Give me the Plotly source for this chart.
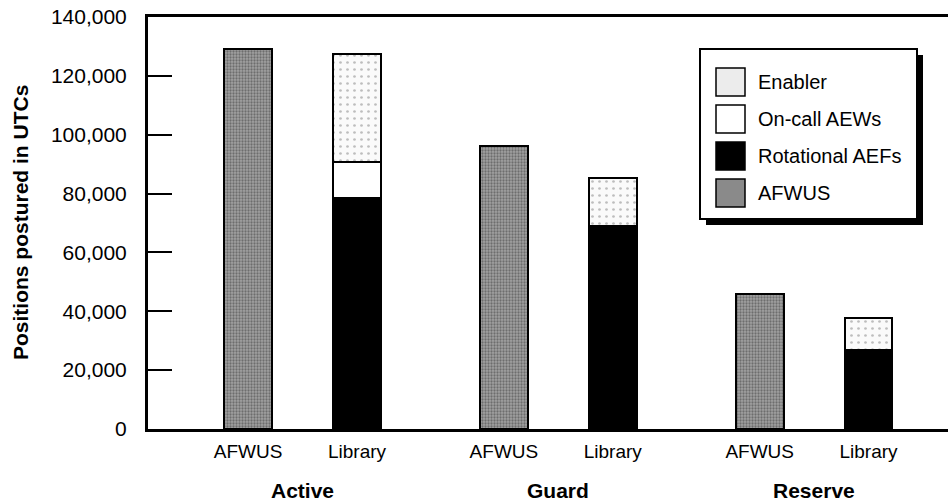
import plotly.graph_objects as go

groups = ["Active", "Guard", "Reserve"]
bar_labels = ["AFWUS", "Library", "AFWUS", "Library", "AFWUS", "Library"]
afwus = [129000, None, 96000, None, 46000, None]
rotational = [None, 78500, None, 69000, None, 27000]
oncall = [None, 12200, None, 0, None, 0]
enabler = [None, 36800, None, 16300, None, 10800]
legend_items = ["Enabler", "On-call AEWs", "Rotational AEFs", "AFWUS"]
y_ticks = [0, 20000, 40000, 60000, 80000, 100000, 120000, 140000]

# layout positions
gap = 1.35
xpos = []
for g in range(len(groups)):
    xpos += [g * (1 + gap), g * (1 + gap) + 1]
group_centers = [(xpos[2 * i] + xpos[2 * i + 1]) / 2 for i in range(len(groups))]

FONT = "Liberation Sans, Arial, Helvetica, sans-serif"
W = 0.44
line = dict(color="black", width=2)

fig = go.Figure()
fig.add_bar(x=xpos, y=afwus, width=W, name="AFWUS",
            marker=dict(color="#909090", line=line,
                        pattern=dict(shape=".", bgcolor="#a2a2a2", fgcolor="#383838",
                                     size=3, solidity=0.45)))
fig.add_bar(x=xpos, y=rotational, width=W, name="Rotational AEFs",
            marker=dict(color="black", line=line))
fig.add_bar(x=xpos, y=oncall, width=W, name="On-call AEWs",
            marker=dict(color="white", line=line))
fig.add_bar(x=xpos, y=enabler, width=W, name="Enabler",
            marker=dict(color="#f7f7f7", line=line,
                        pattern=dict(shape=".", bgcolor="#fafafa", fgcolor="#808080",
                                     size=7, solidity=0.12)))

fig.update_layout(
    barmode="stack",
    width=948, height=501,
    margin=dict(l=148, r=0, t=17, b=72),
    plot_bgcolor="white", paper_bgcolor="white",
    showlegend=False,
    font=dict(family=FONT, size=19, color="black"),
    xaxis=dict(range=[-0.92, 6.43], tickmode="array", tickvals=xpos, ticktext=bar_labels,
               showline=True, linecolor="black", linewidth=3, mirror=True,
               ticks="", showgrid=False, zeroline=False, ticklabelstandoff=3,
               tickfont=dict(size=19, family=FONT)),
    yaxis=dict(range=[0, 140000], tickvals=y_ticks, tickformat=",d",
               showline=True, linecolor="black", linewidth=3,
               ticks="inside", ticklen=24, tickwidth=2, tickcolor="black",
               ticklabelstandoff=14,
               showgrid=False, zeroline=False, tickfont=dict(size=21, family=FONT)),
)

fig.add_annotation(x=(20 - 148) / 800, y=0.5, xref="paper", yref="paper",
                   xanchor="center", yanchor="middle",
                   text="<b>Positions postured in UTCs</b>", textangle=-90,
                   showarrow=False, font=dict(size=21, family=FONT))

for gname, cx in zip(groups, group_centers):
    fig.add_annotation(x=cx, y=-(490 - 429) / 412, xref="x", yref="paper", text=f"<b>{gname}</b>",
                       showarrow=False, font=dict(size=21, family=FONT), yanchor="middle")

# custom legend
px0, pw = 148, 800
py0, ph = 429, 412
def px(x):
    return (x - px0) / pw
def py(y):
    return (py0 - y) / ph

fig.add_shape(type="rect", xref="paper", yref="paper", x0=px(706), x1=px(923), y0=py(55), y1=py(225),
              fillcolor="black", line=dict(width=0), layer="above")
fig.add_shape(type="rect", xref="paper", yref="paper", x0=px(700), x1=px(917), y0=py(49), y1=py(219),
              fillcolor="white", line=dict(color="black", width=2), layer="above")
sw_fill = {"Enabler": "#ececec", "On-call AEWs": "white", "Rotational AEFs": "black", "AFWUS": "#8a8a8a"}
for i, name in enumerate(legend_items):
    cy = 82 + i * 37
    fig.add_shape(type="rect", xref="paper", yref="paper", x0=px(716), x1=px(745),
                  y0=py(cy - 14), y1=py(cy + 14), fillcolor=sw_fill[name],
                  line=dict(color="black", width=1.5), layer="above")
    fig.add_annotation(x=px(756), y=py(cy), xref="paper", yref="paper", text=name,
                       showarrow=False, xanchor="left", yanchor="middle",
                       font=dict(size=20, family=FONT))

fig.write_html("out.html")
